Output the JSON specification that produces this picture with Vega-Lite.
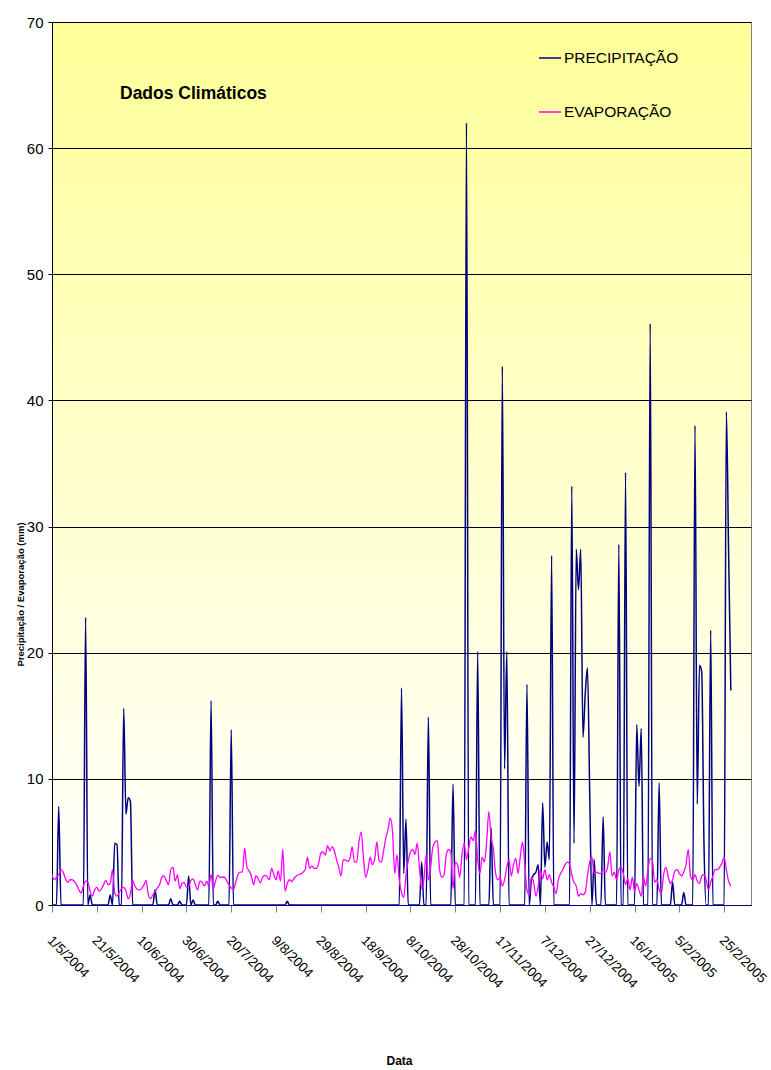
{
"$schema": "https://vega.github.io/schema/vega-lite/v6.json",
"width": 699, "height": 883,
"autosize": {"type": "none"},
"padding": {"left": 52, "top": 22, "right": 20, "bottom": 165},
"background": "#ffffff",
"title": {"text": "Dados Climáticos", "anchor": "start", "frame": "group", "dx": 68, "dy": 101, "offset": 0, "baseline": "alphabetic", "fontSize": 17.5, "fontWeight": "bold", "color": "#000000"},
"data": {"values": [
{"date":"2004-05-01","prec":0,"evap":2.4},{"date":"2004-05-02","prec":0,"evap":2.0},{"date":"2004-05-03","prec":0,"evap":2.2},{"date":"2004-05-04","prec":7.8,"evap":2.4},{"date":"2004-05-05","prec":0,"evap":2.8},{"date":"2004-05-06","prec":0,"evap":2.6},{"date":"2004-05-07","prec":0,"evap":2.1},{"date":"2004-05-08","prec":0,"evap":1.8},{"date":"2004-05-09","prec":0,"evap":2.0},{"date":"2004-05-10","prec":0,"evap":2.0},
{"date":"2004-05-11","prec":0,"evap":1.85},{"date":"2004-05-12","prec":0,"evap":1.6},{"date":"2004-05-13","prec":0,"evap":1.2},{"date":"2004-05-14","prec":0,"evap":0.95},{"date":"2004-05-15","prec":0,"evap":1.5},{"date":"2004-05-16","prec":22.8,"evap":1.9},{"date":"2004-05-17","prec":0,"evap":1.8},{"date":"2004-05-18","prec":0.8,"evap":1.1},{"date":"2004-05-19","prec":0,"evap":0.7},{"date":"2004-05-20","prec":0,"evap":1.2},
{"date":"2004-05-21","prec":0,"evap":1.4},{"date":"2004-05-22","prec":0,"evap":1.1},{"date":"2004-05-23","prec":0,"evap":1.25},{"date":"2004-05-24","prec":0,"evap":1.6},{"date":"2004-05-25","prec":0,"evap":1.95},{"date":"2004-05-26","prec":0,"evap":1.6},{"date":"2004-05-27","prec":0.8,"evap":1.7},{"date":"2004-05-28","prec":0,"evap":2.8},{"date":"2004-05-29","prec":4.9,"evap":0.95},{"date":"2004-05-30","prec":4.8,"evap":0.7},
{"date":"2004-05-31","prec":0,"evap":1.0},{"date":"2004-06-01","prec":0,"evap":1.3},{"date":"2004-06-02","prec":15.6,"evap":1.4},{"date":"2004-06-03","prec":7.2,"evap":1.1},{"date":"2004-06-04","prec":8.5,"evap":0.5},{"date":"2004-06-05","prec":8.2,"evap":0.9},{"date":"2004-06-06","prec":0,"evap":1.95},{"date":"2004-06-07","prec":0,"evap":1.5},{"date":"2004-06-08","prec":0,"evap":1.25},{"date":"2004-06-09","prec":0,"evap":1.2},
{"date":"2004-06-10","prec":0,"evap":1.3},{"date":"2004-06-11","prec":0,"evap":1.6},{"date":"2004-06-12","prec":0,"evap":1.95},{"date":"2004-06-13","prec":0,"evap":0.8},{"date":"2004-06-14","prec":0,"evap":0.5},{"date":"2004-06-15","prec":0,"evap":0.8},{"date":"2004-06-16","prec":1.2,"evap":1.05},{"date":"2004-06-17","prec":0,"evap":1.35},{"date":"2004-06-18","prec":0,"evap":1.6},{"date":"2004-06-19","prec":0,"evap":2.2},
{"date":"2004-06-20","prec":0,"evap":2.3},{"date":"2004-06-21","prec":0,"evap":1.95},{"date":"2004-06-22","prec":0,"evap":1.6},{"date":"2004-06-23","prec":0.5,"evap":2.8},{"date":"2004-06-24","prec":0,"evap":3.0},{"date":"2004-06-25","prec":0,"evap":1.9},{"date":"2004-06-26","prec":0,"evap":2.4},{"date":"2004-06-27","prec":0.3,"evap":1.3},{"date":"2004-06-28","prec":0,"evap":1.7},{"date":"2004-06-29","prec":0,"evap":1.8},
{"date":"2004-06-30","prec":0,"evap":1.4},{"date":"2004-07-01","prec":2.3,"evap":1.5},{"date":"2004-07-02","prec":0,"evap":1.95},{"date":"2004-07-03","prec":0.4,"evap":2.05},{"date":"2004-07-04","prec":0,"evap":1.6},{"date":"2004-07-05","prec":0,"evap":1.2},{"date":"2004-07-06","prec":0,"evap":1.9},{"date":"2004-07-07","prec":0,"evap":1.8},{"date":"2004-07-08","prec":0,"evap":1.5},{"date":"2004-07-09","prec":0,"evap":1.9},
{"date":"2004-07-10","prec":0,"evap":1.5},{"date":"2004-07-11","prec":16.2,"evap":2.4},{"date":"2004-07-12","prec":0,"evap":1.3},{"date":"2004-07-13","prec":0,"evap":1.9},{"date":"2004-07-14","prec":0.3,"evap":2.35},{"date":"2004-07-15","prec":0,"evap":2.2},{"date":"2004-07-16","prec":0,"evap":2.2},{"date":"2004-07-17","prec":0,"evap":2.2},{"date":"2004-07-18","prec":0,"evap":1.9},{"date":"2004-07-19","prec":0,"evap":1.6},
{"date":"2004-07-20","prec":13.9,"evap":1.35},{"date":"2004-07-21","prec":0,"evap":1.2},{"date":"2004-07-22","prec":0,"evap":1.8},{"date":"2004-07-23","prec":0,"evap":2.4},{"date":"2004-07-24","prec":0,"evap":2.6},{"date":"2004-07-25","prec":0,"evap":2.6},{"date":"2004-07-26","prec":0,"evap":4.5},{"date":"2004-07-27","prec":0,"evap":3.0},{"date":"2004-07-28","prec":0,"evap":2.7},{"date":"2004-07-29","prec":0,"evap":2.3},
{"date":"2004-07-30","prec":0,"evap":1.6},{"date":"2004-07-31","prec":0,"evap":2.3},{"date":"2004-08-01","prec":0,"evap":2.1},{"date":"2004-08-02","prec":0,"evap":1.75},{"date":"2004-08-03","prec":0,"evap":2.2},{"date":"2004-08-04","prec":0,"evap":2.35},{"date":"2004-08-05","prec":0,"evap":2.25},{"date":"2004-08-06","prec":0,"evap":2.0},{"date":"2004-08-07","prec":0,"evap":2.9},{"date":"2004-08-08","prec":0,"evap":2.4},
{"date":"2004-08-09","prec":0,"evap":2.0},{"date":"2004-08-10","prec":0,"evap":2.7},{"date":"2004-08-11","prec":0,"evap":1.9},{"date":"2004-08-12","prec":0,"evap":4.4},{"date":"2004-08-13","prec":0,"evap":1.1},{"date":"2004-08-14","prec":0.3,"evap":1.7},{"date":"2004-08-15","prec":0,"evap":2.0},{"date":"2004-08-16","prec":0,"evap":1.85},{"date":"2004-08-17","prec":0,"evap":2.1},{"date":"2004-08-18","prec":0,"evap":2.3},
{"date":"2004-08-19","prec":0,"evap":2.4},{"date":"2004-08-20","prec":0,"evap":2.45},{"date":"2004-08-21","prec":0,"evap":2.6},{"date":"2004-08-22","prec":0,"evap":2.8},{"date":"2004-08-23","prec":0,"evap":3.8},{"date":"2004-08-24","prec":0,"evap":2.9},{"date":"2004-08-25","prec":0,"evap":3.1},{"date":"2004-08-26","prec":0,"evap":2.9},{"date":"2004-08-27","prec":0,"evap":2.9},{"date":"2004-08-28","prec":0,"evap":3.3},
{"date":"2004-08-29","prec":0,"evap":4.1},{"date":"2004-08-30","prec":0,"evap":4.2},{"date":"2004-08-31","prec":0,"evap":3.95},{"date":"2004-09-01","prec":0,"evap":4.7},{"date":"2004-09-02","prec":0,"evap":4.3},{"date":"2004-09-03","prec":0,"evap":4.6},{"date":"2004-09-04","prec":0,"evap":4.3},{"date":"2004-09-05","prec":0,"evap":3.6},{"date":"2004-09-06","prec":0,"evap":3.0},{"date":"2004-09-07","prec":0,"evap":2.3},
{"date":"2004-09-08","prec":0,"evap":3.6},{"date":"2004-09-09","prec":0,"evap":3.55},{"date":"2004-09-10","prec":0,"evap":3.45},{"date":"2004-09-11","prec":0,"evap":3.7},{"date":"2004-09-12","prec":0,"evap":4.6},{"date":"2004-09-13","prec":0,"evap":3.4},{"date":"2004-09-14","prec":0,"evap":3.4},{"date":"2004-09-15","prec":0,"evap":5.0},{"date":"2004-09-16","prec":0,"evap":5.8},{"date":"2004-09-17","prec":0,"evap":3.8},
{"date":"2004-09-18","prec":0,"evap":2.2},{"date":"2004-09-19","prec":0,"evap":2.8},{"date":"2004-09-20","prec":0,"evap":3.8},{"date":"2004-09-21","prec":0,"evap":3.2},{"date":"2004-09-22","prec":0,"evap":3.6},{"date":"2004-09-23","prec":0,"evap":5.0},{"date":"2004-09-24","prec":0,"evap":3.5},{"date":"2004-09-25","prec":0,"evap":3.4},{"date":"2004-09-26","prec":0,"evap":4.3},{"date":"2004-09-27","prec":0,"evap":5.3},
{"date":"2004-09-28","prec":0,"evap":6.0},{"date":"2004-09-29","prec":0,"evap":6.9},{"date":"2004-09-30","prec":0,"evap":5.8},{"date":"2004-10-01","prec":0,"evap":2.5},{"date":"2004-10-02","prec":0,"evap":4.0},{"date":"2004-10-03","prec":0,"evap":2.0},{"date":"2004-10-04","prec":17.2,"evap":1.0},{"date":"2004-10-05","prec":2.5,"evap":0.6},{"date":"2004-10-06","prec":6.8,"evap":2.4},{"date":"2004-10-07","prec":0,"evap":3.5},
{"date":"2004-10-08","prec":0,"evap":4.2},{"date":"2004-10-09","prec":0,"evap":4.4},{"date":"2004-10-10","prec":0,"evap":4.0},{"date":"2004-10-11","prec":0,"evap":4.9},{"date":"2004-10-12","prec":0,"evap":3.0},{"date":"2004-10-13","prec":3.4,"evap":1.3},{"date":"2004-10-14","prec":0,"evap":2.0},{"date":"2004-10-15","prec":0,"evap":4.0},{"date":"2004-10-16","prec":14.9,"evap":2.0},{"date":"2004-10-17","prec":0,"evap":3.0},
{"date":"2004-10-18","prec":0,"evap":4.6},{"date":"2004-10-19","prec":0,"evap":5.0},{"date":"2004-10-20","prec":0,"evap":5.1},{"date":"2004-10-21","prec":0,"evap":2.8},{"date":"2004-10-22","prec":0,"evap":2.2},{"date":"2004-10-23","prec":0,"evap":2.4},{"date":"2004-10-24","prec":0,"evap":4.0},{"date":"2004-10-25","prec":0,"evap":4.4},{"date":"2004-10-26","prec":0,"evap":4.2},{"date":"2004-10-27","prec":9.6,"evap":1.3},
{"date":"2004-10-28","prec":0,"evap":3.4},{"date":"2004-10-29","prec":0,"evap":3.2},{"date":"2004-10-30","prec":0,"evap":2.2},{"date":"2004-10-31","prec":0,"evap":4.0},{"date":"2004-11-01","prec":0,"evap":4.9},{"date":"2004-11-02","prec":62.0,"evap":3.6},{"date":"2004-11-03","prec":0,"evap":4.5},{"date":"2004-11-04","prec":0,"evap":5.4},{"date":"2004-11-05","prec":0,"evap":5.1},{"date":"2004-11-06","prec":0,"evap":5.9},
{"date":"2004-11-07","prec":20.1,"evap":3.6},{"date":"2004-11-08","prec":0,"evap":2.5},{"date":"2004-11-09","prec":0,"evap":3.8},{"date":"2004-11-10","prec":0,"evap":3.4},{"date":"2004-11-11","prec":0,"evap":5.0},{"date":"2004-11-12","prec":0,"evap":7.4},{"date":"2004-11-13","prec":6.1,"evap":5.3},{"date":"2004-11-14","prec":0,"evap":4.5},{"date":"2004-11-15","prec":0,"evap":2.5},{"date":"2004-11-16","prec":0,"evap":2.0},
{"date":"2004-11-17","prec":0,"evap":2.2},{"date":"2004-11-18","prec":42.7,"evap":1.5},{"date":"2004-11-19","prec":10.8,"evap":2.0},{"date":"2004-11-20","prec":20.1,"evap":3.0},{"date":"2004-11-21","prec":0,"evap":3.6},{"date":"2004-11-22","prec":0,"evap":2.3},{"date":"2004-11-23","prec":0,"evap":3.2},{"date":"2004-11-24","prec":0,"evap":3.7},{"date":"2004-11-25","prec":0,"evap":2.5},{"date":"2004-11-26","prec":0,"evap":3.8},
{"date":"2004-11-27","prec":0,"evap":5.0},{"date":"2004-11-28","prec":0,"evap":3.3},{"date":"2004-11-29","prec":17.5,"evap":1.2},{"date":"2004-11-30","prec":0,"evap":0.8},{"date":"2004-12-01","prec":2.0,"evap":2.2},{"date":"2004-12-02","prec":2.4,"evap":1.8},{"date":"2004-12-03","prec":2.6,"evap":0.7},{"date":"2004-12-04","prec":3.2,"evap":1.5},{"date":"2004-12-05","prec":0,"evap":2.8},{"date":"2004-12-06","prec":8.1,"evap":2.1},
{"date":"2004-12-07","prec":3.0,"evap":2.8},{"date":"2004-12-08","prec":5.0,"evap":2.0},{"date":"2004-12-09","prec":3.6,"evap":2.4},{"date":"2004-12-10","prec":27.7,"evap":1.8},{"date":"2004-12-11","prec":0,"evap":1.4},{"date":"2004-12-12","prec":0,"evap":0.9},{"date":"2004-12-13","prec":0,"evap":2.0},{"date":"2004-12-14","prec":0,"evap":2.5},{"date":"2004-12-15","prec":0,"evap":2.8},{"date":"2004-12-16","prec":0,"evap":3.2},
{"date":"2004-12-17","prec":0,"evap":3.4},{"date":"2004-12-18","prec":0,"evap":3.3},{"date":"2004-12-19","prec":33.2,"evap":2.4},{"date":"2004-12-20","prec":4.9,"evap":1.8},{"date":"2004-12-21","prec":28.2,"evap":1.5},{"date":"2004-12-22","prec":25.0,"evap":0.7},{"date":"2004-12-23","prec":28.2,"evap":0.9},{"date":"2004-12-24","prec":13.3,"evap":0.8},{"date":"2004-12-25","prec":16.7,"evap":1.0},{"date":"2004-12-26","prec":18.8,"evap":2.3},
{"date":"2004-12-27","prec":9.0,"evap":3.4},{"date":"2004-12-28","prec":0,"evap":3.8},{"date":"2004-12-29","prec":3.6,"evap":2.5},{"date":"2004-12-30","prec":0,"evap":2.6},{"date":"2004-12-31","prec":0,"evap":2.5},{"date":"2005-01-01","prec":0,"evap":2.5},{"date":"2005-01-02","prec":7.0,"evap":2.8},{"date":"2005-01-03","prec":0,"evap":2.6},{"date":"2005-01-04","prec":0,"evap":3.0},{"date":"2005-01-05","prec":0,"evap":4.2},
{"date":"2005-01-06","prec":0,"evap":2.3},{"date":"2005-01-07","prec":0,"evap":2.6},{"date":"2005-01-08","prec":0,"evap":2.0},{"date":"2005-01-09","prec":28.6,"evap":2.8},{"date":"2005-01-10","prec":0,"evap":3.0},{"date":"2005-01-11","prec":0,"evap":2.5},{"date":"2005-01-12","prec":34.3,"evap":1.6},{"date":"2005-01-13","prec":0,"evap":2.1},{"date":"2005-01-14","prec":0,"evap":1.2},{"date":"2005-01-15","prec":0,"evap":2.2},
{"date":"2005-01-16","prec":0,"evap":1.1},{"date":"2005-01-17","prec":14.3,"evap":1.7},{"date":"2005-01-18","prec":9.4,"evap":1.2},{"date":"2005-01-19","prec":14.0,"evap":0.7},{"date":"2005-01-20","prec":0,"evap":2.2},{"date":"2005-01-21","prec":0,"evap":1.5},{"date":"2005-01-22","prec":0,"evap":2.8},{"date":"2005-01-23","prec":46.1,"evap":3.7},{"date":"2005-01-24","prec":0,"evap":3.5},{"date":"2005-01-25","prec":0,"evap":1.8},
{"date":"2005-01-26","prec":0,"evap":2.0},{"date":"2005-01-27","prec":9.7,"evap":1.2},{"date":"2005-01-28","prec":0,"evap":0.9},{"date":"2005-01-29","prec":0,"evap":2.4},{"date":"2005-01-30","prec":0,"evap":3.0},{"date":"2005-01-31","prec":0,"evap":2.3},{"date":"2005-02-01","prec":0,"evap":1.7},{"date":"2005-02-02","prec":1.8,"evap":2.0},{"date":"2005-02-03","prec":0,"evap":2.7},{"date":"2005-02-04","prec":0,"evap":2.8},
{"date":"2005-02-05","prec":0,"evap":2.5},{"date":"2005-02-06","prec":0,"evap":2.3},{"date":"2005-02-07","prec":1.0,"evap":2.6},{"date":"2005-02-08","prec":0,"evap":3.2},{"date":"2005-02-09","prec":0,"evap":4.4},{"date":"2005-02-10","prec":0,"evap":2.3},{"date":"2005-02-11","prec":0,"evap":2.0},{"date":"2005-02-12","prec":38.0,"evap":2.4},{"date":"2005-02-13","prec":8.0,"evap":1.9},{"date":"2005-02-14","prec":19.0,"evap":1.7},
{"date":"2005-02-15","prec":18.5,"evap":2.3},{"date":"2005-02-16","prec":5.0,"evap":2.4},{"date":"2005-02-17","prec":0,"evap":2.0},{"date":"2005-02-18","prec":0,"evap":1.2},{"date":"2005-02-19","prec":21.8,"evap":1.8},{"date":"2005-02-20","prec":0,"evap":2.3},{"date":"2005-02-21","prec":0,"evap":2.8},{"date":"2005-02-22","prec":0,"evap":2.8},{"date":"2005-02-23","prec":0,"evap":3.0},{"date":"2005-02-24","prec":0,"evap":3.3},
{"date":"2005-02-25","prec":0,"evap":3.8},{"date":"2005-02-26","prec":39.1,"evap":2.8},{"date":"2005-02-27","prec":28.0,"evap":1.9},{"date":"2005-02-28","prec":17.0,"evap":1.5}
]},
"encoding": {
  "x": {"field": "date", "type": "temporal",
    "scale": {"type": "utc", "domain": [{"year":2004,"month":5,"date":1,"utc":true},{"year":2005,"month":3,"date":9,"utc":true}]},
    "axis": {
      "values": [{"year":2004,"month":5,"date":1,"utc":true},{"year":2004,"month":5,"date":21,"utc":true},{"year":2004,"month":6,"date":10,"utc":true},{"year":2004,"month":6,"date":30,"utc":true},{"year":2004,"month":7,"date":20,"utc":true},{"year":2004,"month":8,"date":9,"utc":true},{"year":2004,"month":8,"date":29,"utc":true},{"year":2004,"month":9,"date":18,"utc":true},{"year":2004,"month":10,"date":8,"utc":true},{"year":2004,"month":10,"date":28,"utc":true},{"year":2004,"month":11,"date":17,"utc":true},{"year":2004,"month":12,"date":7,"utc":true},{"year":2004,"month":12,"date":27,"utc":true},{"year":2005,"month":1,"date":16,"utc":true},{"year":2005,"month":2,"date":5,"utc":true},{"year":2005,"month":2,"date":25,"utc":true}],
      "labelExpr": "utcFormat(datum.value, '%-d/%-m/%Y')",
      "labelAngle": 45, "labelAlign": "left", "labelBaseline": "top",
      "labelFontSize": 13.5, "labelColor": "#000000", "labelPadding": 21, "labelOffset": 2,
      "labelOverlap": false, "labelFlush": false, "labelBound": false,
      "tickSize": 7, "tickColor": "#808080", "tickWidth": 1,
      "domainColor": "#000080", "grid": false,
      "title": "Data", "titleFontSize": 12, "titleFontWeight": "bold", "titleColor": "#000000",
      "titleX": 347, "titleY": 155, "titleAlign": "center", "titleBaseline": "middle"
    }
  }
},
"layer": [
  {"mark": {"type": "line", "interpolate": "monotone", "strokeWidth": 1.5, "clip": true},
   "encoding": {
     "y": {"field": "prec", "type": "quantitative", "scale": {"domain": [0, 70]},
       "axis": {"title": "Precipitação / Evaporação (mm)", "values": [0,10,20,30,40,50,60,70], "grid": true, "gridColor": "#000000", "gridWidth": 1,
         "domainColor": "#000000", "tickColor": "#000000", "tickSize": 4, "labelPadding": 5, "labelFontSize": 15, "labelColor": "#000000",
         "titleFontSize": 9.5, "titleFontWeight": "bold", "titleColor": "#000000", "titleX": -32, "titleY": 572, "titleAlign": "center", "titleBaseline": "middle", "titleAngle": 270}},
     "color": {"datum": "PRECIPITAÇÃO", "scale": {"domain": ["PRECIPITAÇÃO", "EVAPORAÇÃO"], "range": ["#000080", "#FF00FF"]},
       "legend": {"title": null, "orient": "none", "legendX": 486, "legendY": 24, "direction": "vertical", "symbolType": "stroke", "symbolStrokeWidth": 1.5, "symbolSize": 484, "labelFontSize": 15.5, "labelColor": "#000000", "labelOffset": 2, "rowPadding": 33, "padding": 0, "labelLimit": 300}}
   }},
  {"mark": {"type": "line", "interpolate": "monotone", "strokeWidth": 1.3, "clip": true},
   "encoding": {
     "y": {"field": "evap", "type": "quantitative",
       "axis": {"title": "Precipitação / Evaporação (mm)", "values": [0,10,20,30,40,50,60,70], "grid": true, "gridColor": "#000000", "gridWidth": 1,
         "domainColor": "#000000", "tickColor": "#000000", "tickSize": 4, "labelPadding": 5, "labelFontSize": 15, "labelColor": "#000000",
         "titleFontSize": 9.5, "titleFontWeight": "bold", "titleColor": "#000000", "titleX": -32, "titleY": 572, "titleAlign": "center", "titleBaseline": "middle", "titleAngle": 270}},
     "color": {"datum": "EVAPORAÇÃO"}
   }}
],
"config": {
  "font": "Liberation Sans, Arial, sans-serif",
  "view": {"stroke": "#808080", "strokeWidth": 1, "fill": {"gradient": "linear", "x1": 0, "y1": 0, "x2": 0, "y2": 1, "stops": [{"offset": 0, "color": "#FFFF99"}, {"offset": 1, "color": "#FFFFFF"}]}}
}
}
